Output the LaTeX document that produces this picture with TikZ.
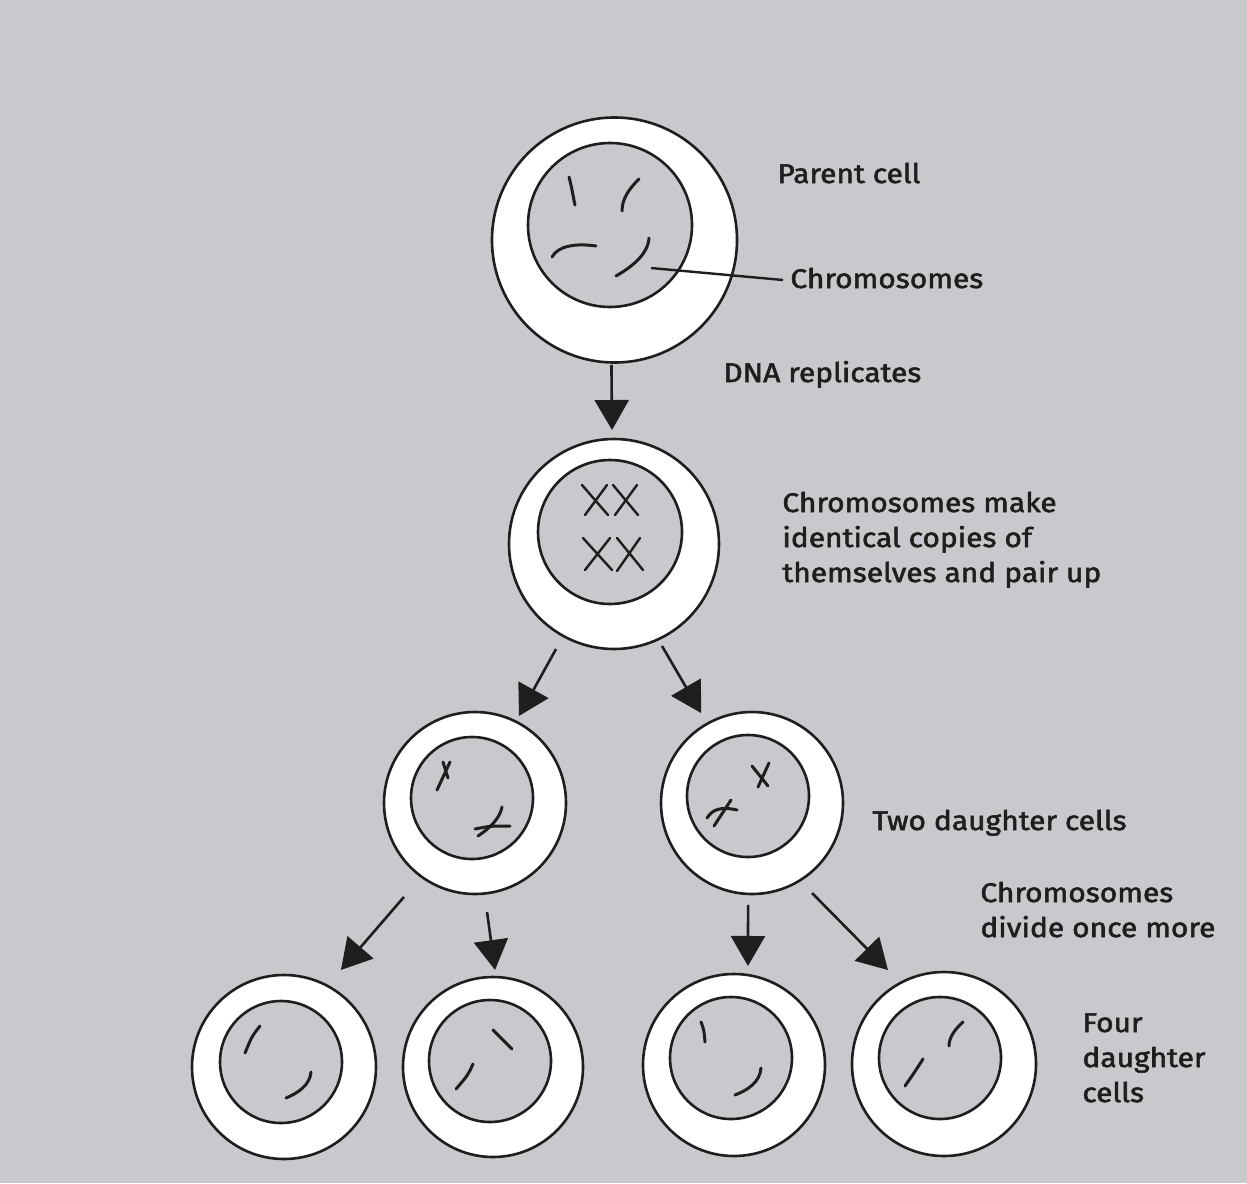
\documentclass[tikz,border=0pt]{standalone}
\usepackage{fontspec}
\newfontfamily\lblfont{Fira Sans}[FakeBold=2, FakeStretch=1.11]
\usetikzlibrary{arrows.meta}
\definecolor{bgc}{RGB}{200,201,204}
\definecolor{ink}{RGB}{30,30,30}
\begin{document}
\begin{tikzpicture}[x=0.5pt,y=-0.5pt,
  cell/.style={circle, draw=ink, line width=1.3pt, fill=white, inner sep=0pt, outer sep=0pt, minimum size=#1pt},
  nucleus/.style={circle, draw=ink, line width=1.3pt, fill=bgc, inner sep=0pt, outer sep=0pt, minimum size=#1pt},
  chromo/.style={draw=ink, line width=1.5pt, line cap=round},
  xmark/.style={draw=ink, line width=1.2pt, line cap=round},
  arr/.style={draw=ink, line width=1.3pt, -{Triangle[length=15pt,width=17pt]}},
  lbl/.style={anchor=base west, inner sep=0pt, text=ink, align=left, font=\lblfont\fontsize{13.5}{17.5}\selectfont},
]
\fill[bgc] (0,0) rectangle (1247,1183);
\useasboundingbox (0,0) rectangle (1247,1183);

% cells (outer membrane) and their nuclei
\node[cell=122.5] (p)  at (614.5,240) {};
\node[nucleus=82] (pn) at (610,225) {};
\node[cell=105]   (r)  at (614,544) {};
\node[nucleus=72] (rn) at (610,532) {};
\node[cell=91]    (d1) at (475,803) {};
\node[nucleus=61] (d1n) at (472,798) {};
\node[cell=91]    (d2) at (752,803) {};
\node[nucleus=61] (d2n) at (748,796) {};
\node[cell=92]    (q1) at (284,1067) {};
\node[nucleus=61] (q1n) at (281,1062) {};
\node[cell=90]    (q2) at (493,1067) {};
\node[nucleus=61] (q2n) at (490,1061) {};
\node[cell=91]    (q3) at (734,1065) {};
\node[nucleus=61] (q3n) at (731,1058) {};
\node[cell=92]    (q4) at (944,1064) {};
\node[nucleus=61] (q4n) at (940,1058) {};

% parent cell chromosomes
\draw[chromo] (569,177) .. controls (572,188) and (573,196) .. (575,205);
\draw[chromo] (639,179) .. controls (630,188) and (622,198) .. (622,211);
\draw[chromo] (552,257) .. controls (558,246) and (575,243) .. (596,246);
\draw[chromo] (649,238) .. controls (648,255) and (630,268) .. (616,276);
\coordinate (ptr) at (651,268);

% replicated pairs
\draw[xmark] (582,485) -- (608,515) (607,485) -- (585,515);
\draw[xmark] (613,485) -- (638,515) (637,485) -- (615,515);
\draw[xmark] (583,538) -- (612,570) (610,538) -- (585,570);
\draw[xmark] (617,538) -- (643,570) (640,538) -- (617,571);

% daughter cells
\draw[chromo] (437,790) -- (450,762) (443,762) -- (448,778);
\draw[chromo] (475,829) .. controls (490,826) .. (510,826);
\draw[chromo] (478,836) .. controls (490,828) and (500,818) .. (502,807);
\draw[chromo] (752,766) -- (768,786) (769,763) -- (758,787);
\draw[chromo] (707,818) .. controls (712,810) and (720,806) .. (737,810);
\draw[chromo] (714,826) -- (731,800);

% four daughter cells
\draw[chromo] (260,1026) .. controls (252,1036) .. (245,1053);
\draw[chromo] (311,1072) .. controls (310,1085) and (298,1093) .. (286,1098);
\draw[chromo] (493,1030) -- (512,1049);
\draw[chromo] (473,1064) .. controls (468,1075) .. (456,1089);
\draw[chromo] (701,1022) .. controls (704,1030) .. (705,1042);
\draw[chromo] (761,1068) .. controls (760,1082) and (748,1090) .. (735,1095);
\draw[chromo] (963,1022) .. controls (954,1030) and (949,1038) .. (949,1046);
\draw[chromo] (923,1059) .. controls (916,1070) .. (905,1086);

% arrows between stages
\draw[arr] ([shift={(91.4:125)}]p.center) -- ([shift={(-91:114)}]r.center);
\draw[arr] ([shift={(118.9:120)}]r.center) -- ([shift={(-63.2:97.5)}]d1.center);
\draw[arr] ([shift={(64.8:112.7)}]r.center) -- ([shift={(-119.5:103.4)}]d2.center);
\draw[arr] ([shift={(127.1:117.8)}]d1.center) -- ([shift={(-59.6:112.5)}]q1.center);
\draw[arr] ([shift={(83.7:109.7)}]d1.center) -- ([shift={(-88.8:97)}]q2.center);
\draw[arr] ([shift={(92.2:102)}]d2.center) -- ([shift={(-82:100)}]q3.center);
\draw[arr] ([shift={(56.3:108.2)}]d2.center) -- ([shift={(-120.8:109.4)}]q4.center);

% labels (multi-line labels are placed by their last baseline)
\node[lbl] (tparent) at (777,183) {Parent cell};
\node[lbl] (tchrom) at (790,288) {Chromosomes};
\draw[ink, line width=1.2pt] (ptr) -- ([xshift=-3.5pt, yshift=4pt]tchrom.base west);
\node[lbl] (tdna) at (723,382) {DNA replicates};
\node[lbl] (tcopy) at (782,582) {Chromosomes make\\identical copies of\\themselves and pair up};
\node[lbl] (ttwo) at (872,830) {Two daughter cells};
\node[lbl] (tdiv) at (980,937) {Chromosomes\\divide once more};
\node[lbl] (tfour) at (1082,1102) {Four\\daughter\\cells};
\end{tikzpicture}
\end{document}
